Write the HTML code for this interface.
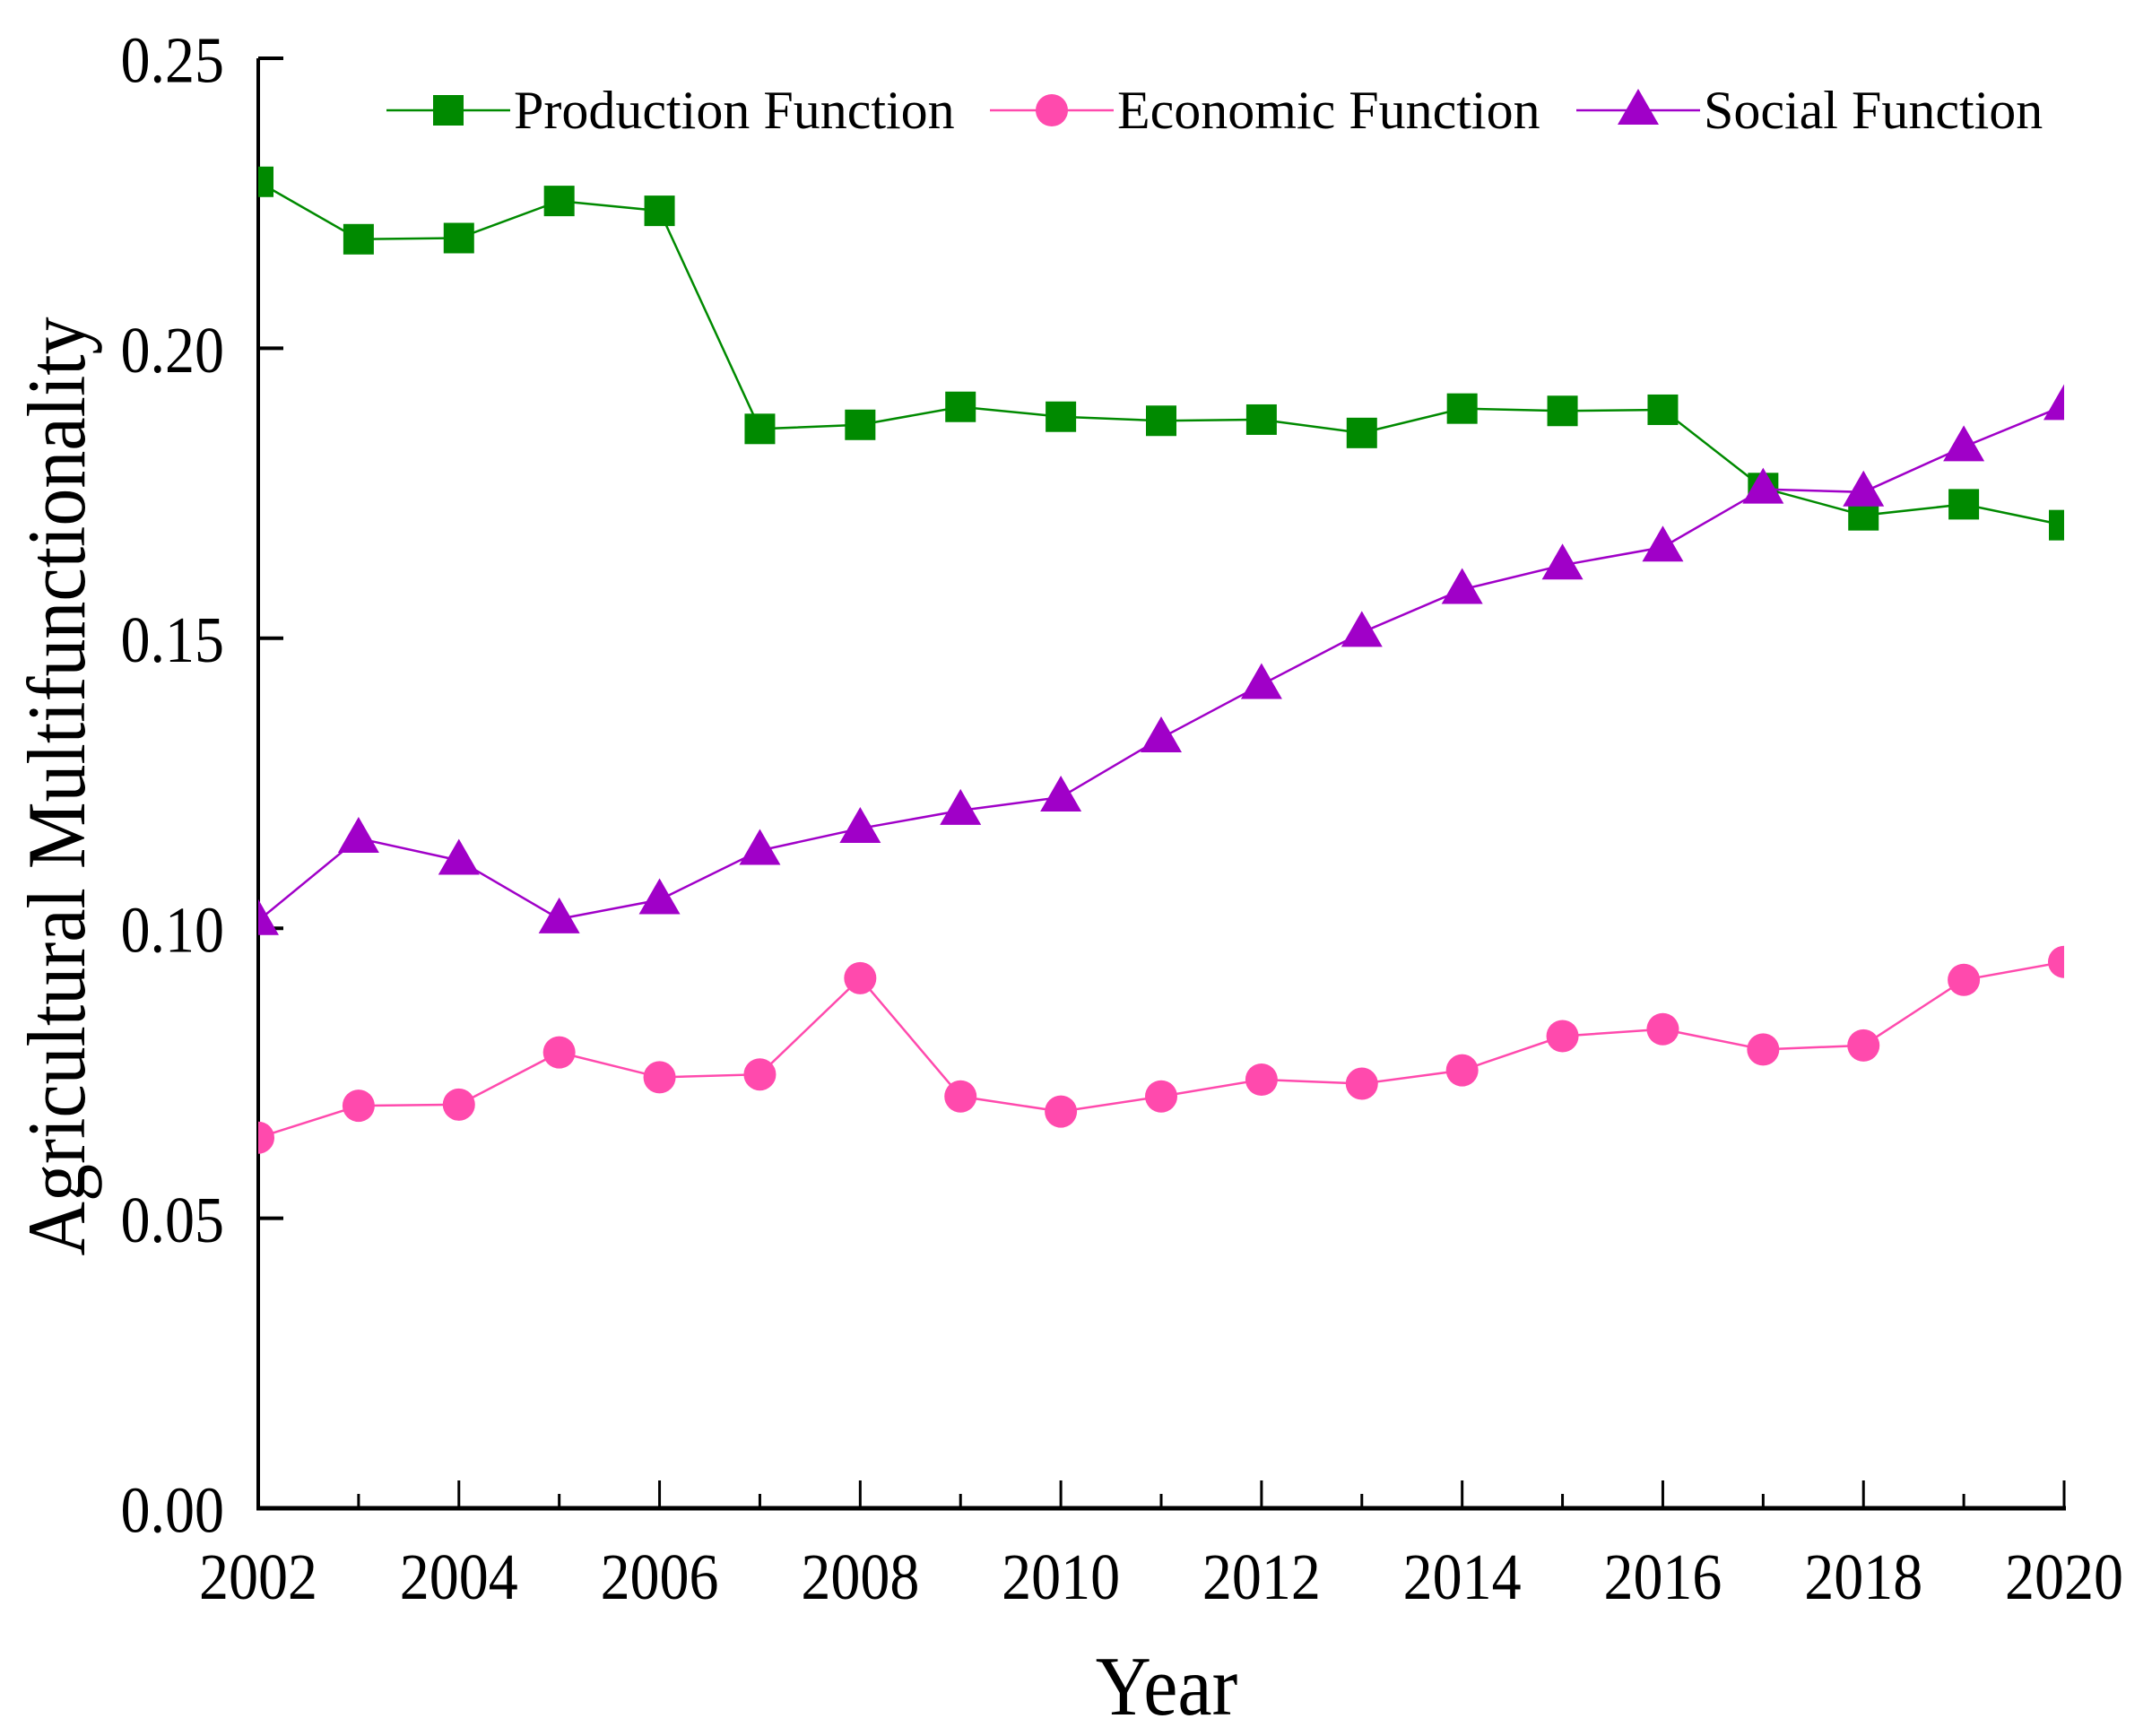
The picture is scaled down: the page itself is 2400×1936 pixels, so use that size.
<!DOCTYPE html>
<html><head><meta charset="utf-8"><style>
html,body{margin:0;padding:0;background:#fff;}
svg{display:block;font-family:"Liberation Serif",serif;}
</style></head><body>
<svg id="chart" width="2400" height="1936" viewBox="0 0 2400 1936" xmlns="http://www.w3.org/2000/svg">
<defs><clipPath id="plotclip"><rect x="288" y="0" width="2014" height="1700"/></clipPath></defs>
<g id="axes"></g>
<g id="series" clip-path="url(#plotclip)"></g>
<g id="legend"></g>
<text x="0" y="0" transform="translate(94,877) rotate(-90) scale(1,1.1)" text-anchor="middle" font-size="84">Agricultural Multifunctionality</text>
<text x="1301" y="1912" text-anchor="middle" font-size="86" transform="translate(0,-191) scale(1,1.1)">Year</text>
</svg>
<script>
const years = [2002,2003,2004,2005,2006,2007,2008,2009,2010,2011,2012,2013,2014,2015,2016,2017,2018,2019,2020];
const production = [0.2287,0.2188,0.2190,0.2254,0.2237,0.1861,0.1868,0.1899,0.1882,0.1875,0.1877,0.1854,0.1896,0.1892,0.1894,0.1759,0.1712,0.1731,0.1695];
const economic = [0.0639,0.0694,0.0696,0.0786,0.0743,0.0748,0.0914,0.0710,0.0684,0.0710,0.0739,0.0732,0.0755,0.0814,0.0826,0.0791,0.0798,0.0911,0.0942];
const social = [0.1013,0.1155,0.1117,0.1016,0.1049,0.1134,0.1172,0.1203,0.1226,0.1328,0.1420,0.1510,0.1584,0.1626,0.1657,0.1757,0.1752,0.1830,0.1901];
const yTicks = [0,0.05,0.10,0.15,0.20,0.25];
const yTickLabels = ["0.00","0.05","0.10","0.15","0.20","0.25"];
const xTickLabels = ["2002","2004","2006","2008","2010","2012","2014","2016","2018","2020"];

const NS="http://www.w3.org/2000/svg";
const X0=288,X1=2302,Y0=1682,Y1=65;
function xs(v){return X0+(v-2002)/(2020-2002)*(X1-X0);}
function ys(v){return Y0+(v-0)/(0.25-0)*(Y1-Y0);}
function mk(tag,attrs,parent){const e=document.createElementNS(NS,tag);for(const k in attrs)e.setAttribute(k,attrs[k]);parent.appendChild(e);return e;}
const axes=document.getElementById('axes');
let a=mk('line',{x1:X0,y1:Y1,x2:X0,y2:Y0+2,stroke:'#000','stroke-width':4},axes);


a=mk('line',{x1:X0-2,y1:Y0,x2:X1+2,y2:Y0,stroke:'#000','stroke-width':5},axes);


yTicks.forEach((v,i)=>{
  const t=mk('line',{x1:X0,y1:ys(v),x2:X0+28,y2:ys(v),stroke:'#000','stroke-width':4},axes);
  
  
  const l=mk('text',{x:250,y:ys(v)+24,'text-anchor':'end','font-size':66,transform:`translate(0,${-(ys(v))*0.1}) scale(1,1.1)`},axes);
  l.textContent=yTickLabels[i];
  
  
});
years.forEach((yr,i)=>{
  const major=(yr%2===0);
  const t=mk('line',{x1:xs(yr),y1:Y0,x2:xs(yr),y2:Y0-(major?31:16),stroke:'#000','stroke-width':3},axes);
  
  
});
xTickLabels.forEach(s=>{
  const l=mk('text',{x:xs(+s),y:1778,'text-anchor':'middle','font-size':66,transform:'translate(0,-173) scale(1,1.1)'},axes);
  l.textContent=s;
  
  
});
const seriesG=document.getElementById('series');
function marker(type,cx,cy,color,parent){
  let e;
  if(type==='square')e=mk('rect',{x:cx-17,y:cy-17,width:34,height:34,fill:color},parent);
  else if(type==='circle')e=mk('circle',{cx:cx,cy:cy,r:18,fill:color},parent);
  else e=mk('polygon',{points:`${cx},${cy-24} ${cx-23},${cy+16} ${cx+23},${cy+16}`,fill:color},parent);
  return e;
}
const defs=[
 {name:'production',vals:production,color:'#008a00',m:'square',label:'Production Function',lx:431},
 {name:'economic',vals:economic,color:'#ff4aad',m:'circle',label:'Economic Function',lx:1104},
 {name:'social',vals:social,color:'#a000c8',m:'triangle',label:'Social Function',lx:1758}
];
defs.forEach(d=>{
  const g=mk('g',{},seriesG);
  
  
  const pl=mk('polyline',{points:d.vals.map((v,i)=>xs(years[i])+','+ys(v)).join(' '),fill:'none',stroke:d.color,'stroke-width':2.5},g);
  
  
  d.vals.forEach((v,i)=>{
    const m=marker(d.m,xs(years[i]),ys(v),d.color,g);
    
    
  });
});
const lg=document.getElementById('legend');
defs.forEach(d=>{
  const g=mk('g',{},lg);
  
  
  const ly=123;
  mk('line',{x1:d.lx,y1:ly,x2:d.lx+138,y2:ly,stroke:d.color,'stroke-width':2.5},g);
  marker(d.m,d.lx+69,ly,d.color,g);
  const t=mk('text',{x:d.lx+142,y:ly+20,'font-size':60},g);
  t.textContent=d.label;
});
</script>
</body></html>
